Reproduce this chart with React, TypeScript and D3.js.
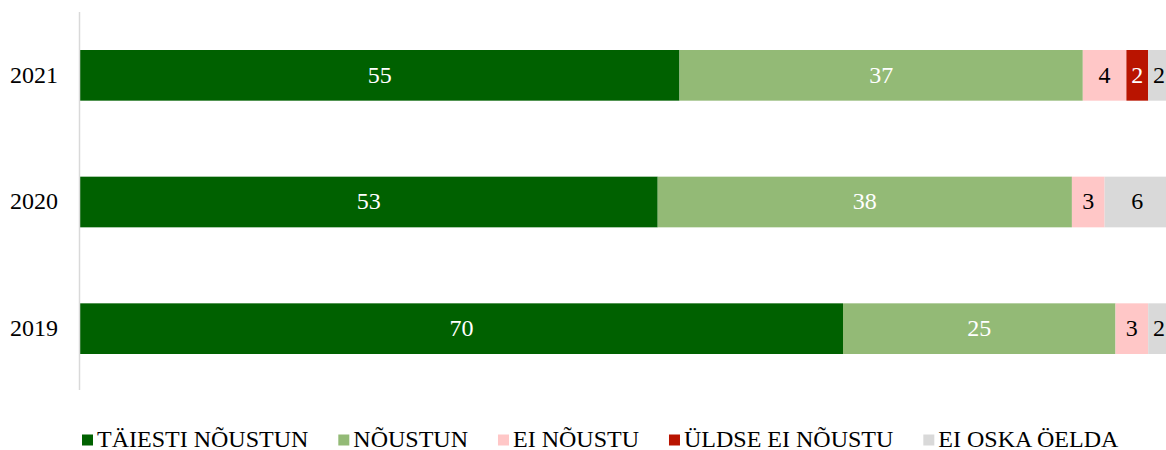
import React, { useEffect, useRef } from "react";
import * as d3 from "d3";

const years = ["2021", "2020", "2019"];
const seriesNames = ["TÄIESTI NÕUSTUN", "NÕUSTUN", "EI NÕUSTU", "ÜLDSE EI NÕUSTU", "EI OSKA ÖELDA"];
const seriesColors = ["#006100", "#93ba76", "#ffc7c7", "#b91400", "#d9d9d9"];
const labelColors = ["#ffffff", "#ffffff", "#000000", "#ffffff", "#000000"];
const taiestiNoustun = [55, 53, 70];
const noustun = [37, 38, 25];
const eiNoustu = [4, 3, 3];
const uldseEiNoustu = [2, 0, 0];
const eiOskaOelda = [2, 6, 2];

const W = 1166;
const H = 450;
const FONT = "Liberation Serif, Times New Roman, serif";

export default function App() {
  const ref = useRef<SVGSVGElement>(null);
  useEffect(() => {
    const svg = d3.select(ref.current);
    svg.selectAll("*").remove();
    const series = [taiestiNoustun, noustun, eiNoustu, uldseEiNoustu, eiOskaOelda];
    const x = d3.scaleLinear().domain([0, 100]).range([80, 1170]);
    const y = d3.scaleBand<string>().domain(years).range([12, 392]).paddingInner(0.6).paddingOuter(0.3);

    const g = svg.append("g");
    years.forEach((yr, i) => {
      let cum = 0;
      series.forEach((s, k) => {
        const v = s[i];
        if (!v) return;
        const x0 = x(cum);
        const x1 = x(cum + v);
        cum += v;
        g.append("rect")
          .attr("x", x0)
          .attr("y", y(yr)!)
          .attr("width", x1 - x0)
          .attr("height", y.bandwidth())
          .attr("fill", seriesColors[k]);
        g.append("text")
          .attr("x", (x0 + x1) / 2)
          .attr("y", y(yr)! + y.bandwidth() / 2)
          .attr("dy", "0.3em")
          .attr("text-anchor", "middle")
          .style("font-family", FONT)
          .style("font-size", "24px")
          .attr("fill", labelColors[k])
          .text(String(v));
      });
    });

    // axis
    svg.append("line")
      .attr("x1", 79.5).attr("x2", 79.5)
      .attr("y1", 12).attr("y2", 390)
      .attr("stroke", "#d9d9d9").attr("stroke-width", 1.5);
    years.forEach((yr) => {
      svg.append("text")
        .attr("x", 58)
        .attr("y", y(yr)! + y.bandwidth() / 2)
        .attr("dy", "0.3em")
        .attr("text-anchor", "end")
        .style("font-family", FONT)
        .style("font-size", "24px")
        .attr("fill", "#000")
        .text(yr);
    });

    // legend
    const lg = svg.append("g");
    let lx = 82;
    const baseline = 446.5;
    seriesNames.forEach((name, k) => {
      lg.append("rect")
        .attr("x", lx).attr("y", baseline - 12)
        .attr("width", 11).attr("height", 11)
        .attr("fill", seriesColors[k]);
      const t = lg.append("text")
        .attr("x", lx + 15)
        .attr("y", baseline)
        .style("font-family", FONT)
        .style("font-size", "24px")
        .attr("fill", "#000")
        .text(name);
      const w = (t.node() as SVGTextElement).getComputedTextLength();
      lx = lx + 15 + w + 30;
    });
  }, []);
  return (
    <svg
      ref={ref}
      width={W}
      height={H}
      style={{ position: "absolute", left: 0, top: 0, background: "#fff" }}
    />
  );
}
